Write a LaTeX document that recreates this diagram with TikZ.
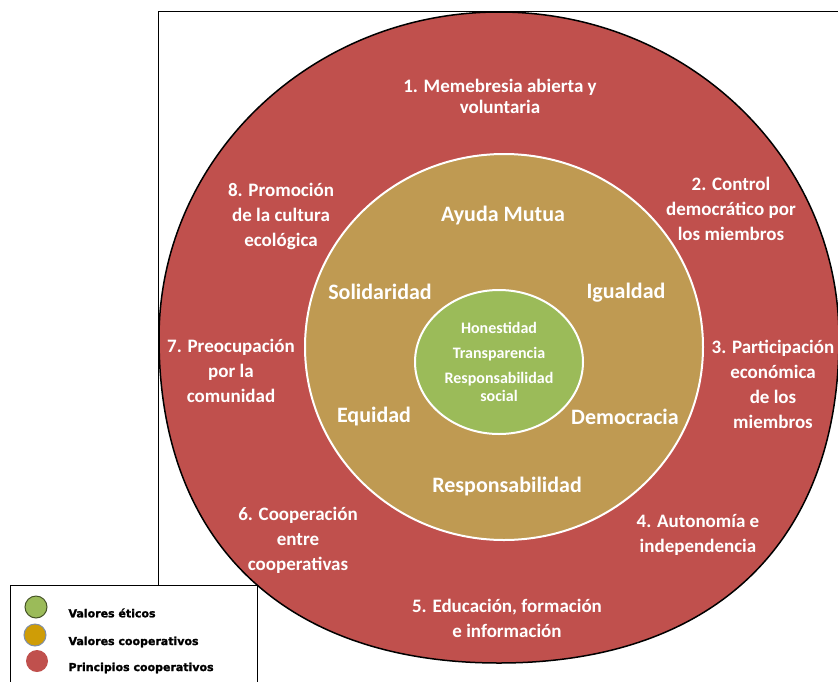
\documentclass[tikz,border=0pt]{standalone}
\usepackage{fontspec}
\setmainfont{Carlito}
\newfontfamily\legendfont[FakeBold=1.5]{DejaVu Sans Bold}
\definecolor{rojo}{HTML}{C0504D}
\definecolor{ocre}{HTML}{BF9A52}
\definecolor{verde}{HTML}{9BBB59}
\definecolor{oro}{HTML}{CF9D06}
\definecolor{borde}{HTML}{7F8FA9}

\begin{document}
\begin{tikzpicture}[x=1pt, y=-1pt,
	principio/.style={text=white, align=center, font=\fontsize{19}{25}\selectfont\bfseries},
	valor/.style={text=white, font=\fontsize{22}{26}\selectfont\bfseries},
	etico/.style={text=white, align=center, font=\fontsize{16}{25}\selectfont\bfseries},
	muestra/.style={circle, minimum size=22pt, inner sep=0pt},
	leyenda/.style={anchor=west, font=\legendfont\fontsize{11}{13}\selectfont}]

\def\width{838}
\def\height{681}

\path [use as bounding box] (0,0) rectangle (\width,\height);

% FRAME
\draw [line width=1pt] (158,585) -- (158,11) -- (\width,11);

% RINGS
\filldraw [line width=1.5pt, fill=rojo] (839,338)
	.. controls (839,158) and (687,12) .. (499,12)
	.. controls (311,12) and (159,158) .. (159,338)
	.. controls (159,543) and (285,663) .. (499,663)
	.. controls (713,663) and (839,543) .. cycle;
\filldraw [line width=2pt, draw=white, fill=ocre] (504,347) ellipse [x radius=199pt, y radius=193pt];
\filldraw [line width=2pt, draw=white, fill=verde] (499,362) ellipse [x radius=84pt, y radius=72pt];

% PRINCIPLES
\node [principio] (p1) at (500,96) {1. Memebresia abierta y\\[-4pt]voluntaria};
\node [principio] (p2) at (731,209) {2. Control\\democrático por\\los miembros};
\node [principio] (p3) at (773,384) {3. Participación\\económica\\de los\\miembros};
\node [principio] (p4) at (698,535) {4. Autonomía e\\independencia};
\node [principio] (p5) at (507,618) {5. Educación, formación\\e información};
\node [principio] (p6) at (298,540) {6. Cooperación\\entre\\cooperativas};
\node [principio] (p7) at (231,371) {7. Preocupación\\por la\\comunidad};
\node [principio] (p8) at (281,216) {8. Promoción\\de la cultura\\ecológica};

% VALUES
\node [valor] (ayuda) at (503,216) {Ayuda Mutua};
\node [valor] (solidaridad) at (380,292) {Solidaridad};
\node [valor] (igualdad) at (626,293) {Igualdad};
\node [valor] (equidad) at (374,417) {Equidad};
\node [valor] (democracia) at (625,417) {Democracia};
\node [valor] (responsabilidad) at (507,487) {Responsabilidad};

% ETHICS
\node [etico] (eticos) at (499,362) {Honestidad\\Transparencia\\Responsabilidad\\[-7pt]social};

% LEGEND
\filldraw [line width=1pt, fill=white] (10,585) rectangle (257,690);
\node [muestra, fill=verde, draw=verde!45!black, line width=1pt] (m1) at (36,607) {};
\node [muestra, fill=oro, draw=borde, line width=1pt] (m2) at (35,635) {};
\node [muestra, fill=rojo] (m3) at (37,661) {};
\node [leyenda] (l1) at (65,613) {Valores éticos};
\node [leyenda] (l2) at (65,642) {Valores cooperativos};
\node [leyenda] (l3) at (65,668) {Principios cooperativos};

\end{tikzpicture}
\end{document}
